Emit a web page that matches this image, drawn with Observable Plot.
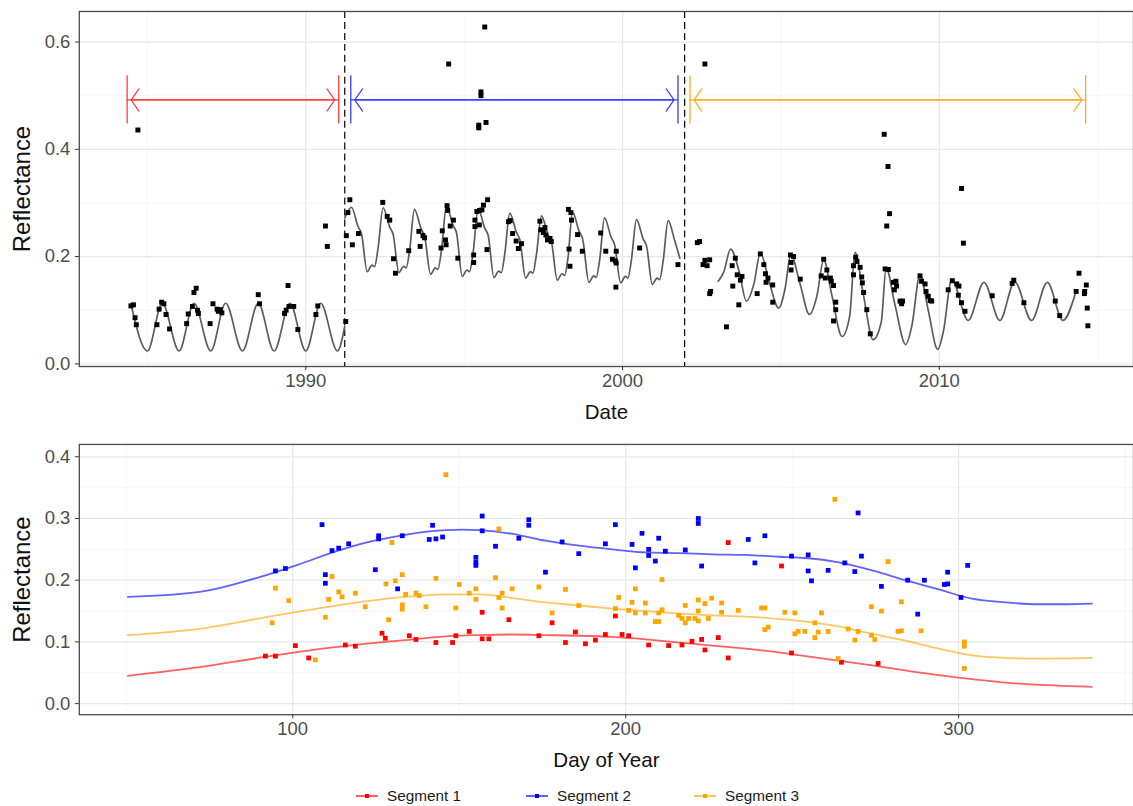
<!DOCTYPE html>
<html><head><meta charset="utf-8">
<script src="https://cdn.jsdelivr.net/npm/d3@7"></script>
<script src="https://cdn.jsdelivr.net/npm/@observablehq/plot@0.6"></script>
<style>
html,body{margin:0;padding:0;background:#fff;overflow:hidden;}
body{font-family:"Liberation Sans",Arial,Helvetica,sans-serif;width:1133px;}
#legend{position:relative;height:31px;width:1133px;}
.item{position:absolute;top:15px;height:16px;display:flex;align-items:center;font-size:15.3px;color:#1a1a1a;}
.item svg{margin-right:8px;}
</style></head><body>
<div id="top"></div><div id="bottom"></div><div id="legend"></div>
<script>
// ---------------- DATA ----------------
const segNames = ["Segment 1", "Segment 2", "Segment 3"];
const segColors = ["#ff0000", "#0000ff", "#ffa500"];
const arrowColors = ["#ff3b3b", "#3b3bff", "#ffac1c"];
const breakDates = [1991.23, 2001.96];
const segStart = [1984.36, 1991.42, 2002.13];
const segEnd = [1991.04, 2001.75, 2014.62];
const arrowLevel = 0.492;
const barLow = 0.447, barHigh = 0.537;

const topXMajor = [1990, 2000, 2010];
const topXMinor = [1985, 1995, 2005, 2015];
const topYMajor = [0, 0.2, 0.4, 0.6];
const topYMinor = [0.1, 0.3, 0.5];
const botXMajor = [100, 200, 300];
const botXMinor = [50, 150, 250, 350];
const botYMajor = [0, 0.1, 0.2, 0.3, 0.4];
const botYMinor = [0.05, 0.15, 0.25, 0.35];

// observations (decimal date, reflectance)
const obsSeg1 = [[1984.48,0.108],[1984.56,0.110],[1984.61,0.086],[1984.65,0.073],[1984.70,0.436],
[1985.30,0.073],[1985.37,0.102],[1985.45,0.115],[1985.52,0.112],[1985.59,0.092],[1985.70,0.065],
[1986.24,0.075],[1986.29,0.093],[1986.42,0.107],[1986.47,0.133],[1986.54,0.141],[1986.58,0.100],[1986.61,0.094],
[1986.98,0.075],[1987.07,0.112],[1987.20,0.102],[1987.24,0.098],[1987.30,0.101],[1987.35,0.095],
[1988.50,0.129],[1988.54,0.112],
[1989.33,0.094],[1989.38,0.100],[1989.44,0.146],[1989.47,0.107],[1989.62,0.107],[1989.75,0.064],
[1990.32,0.092],[1990.38,0.108],[1990.62,0.257],[1990.68,0.219],[1991.26,0.079]];
const obsSeg2 = [[1991.28,0.239],[1991.33,0.282],[1991.39,0.306],[1991.47,0.222],[1991.66,0.243],
[1992.43,0.301],[1992.57,0.275],[1992.65,0.268],[1992.77,0.196],[1992.83,0.169],
[1993.25,0.211],[1993.57,0.247],[1993.61,0.219],[1993.70,0.239],[1993.75,0.235],
[1994.27,0.216],[1994.31,0.248],[1994.41,0.231],[1994.43,0.222],[1994.46,0.295],[1994.48,0.286],[1994.51,0.559],[1994.56,0.257],[1994.66,0.268],[1994.80,0.197],
[1995.30,0.189],[1995.30,0.203],[1995.34,0.256],[1995.34,0.268],[1995.40,0.284],[1995.46,0.445],[1995.46,0.440],[1995.48,0.286],[1995.48,0.259],[1995.53,0.507],[1995.53,0.500],[1995.56,0.287],[1995.61,0.296],[1995.65,0.628],[1995.69,0.450],[1995.72,0.213],[1995.74,0.306],
[1996.40,0.265],[1996.45,0.267],[1996.53,0.243],[1996.64,0.229],[1996.71,0.215],[1996.81,0.224],
[1997.39,0.266],[1997.42,0.250],[1997.50,0.245],[1997.55,0.254],[1997.58,0.240],[1997.63,0.231],[1997.71,0.234],[1997.75,0.228],
[1998.29,0.288],[1998.31,0.214],[1998.34,0.182],[1998.37,0.282],[1998.39,0.268],[1998.58,0.241],[1998.73,0.210],
[1999.31,0.244],[1999.47,0.210],[1999.68,0.195],[1999.77,0.192],[1999.79,0.143],[1999.80,0.210],[1999.80,0.188],
[2000.54,0.216],[2001.75,0.185]];
const obsSeg3 = [[2002.36,0.226],[2002.43,0.228],[2002.54,0.185],[2002.60,0.193],[2002.60,0.559],[2002.67,0.183],[2002.75,0.194],[2002.75,0.131],[2002.78,0.135],
[2003.28,0.069],[2003.46,0.183],[2003.48,0.145],[2003.56,0.197],[2003.62,0.166],[2003.67,0.110],[2003.72,0.156],[2003.77,0.163],
[2004.25,0.131],[2004.35,0.205],[2004.46,0.185],[2004.51,0.168],[2004.53,0.152],[2004.59,0.160],[2004.74,0.147],[2004.74,0.115],
[2005.30,0.203],[2005.32,0.189],[2005.32,0.175],[2005.40,0.200],[2005.61,0.158],
[2006.27,0.164],[2006.35,0.195],[2006.40,0.160],[2006.45,0.175],[2006.56,0.160],[2006.59,0.154],[2006.66,0.146],[2006.66,0.080],[2006.73,0.115],[2006.73,0.101],
[2007.29,0.183],[2007.29,0.166],[2007.36,0.199],[2007.40,0.191],[2007.50,0.180],[2007.55,0.162],[2007.57,0.151],[2007.61,0.133],[2007.71,0.101],[2007.82,0.056],
[2008.26,0.428],[2008.29,0.177],[2008.34,0.257],[2008.38,0.368],[2008.39,0.176],[2008.43,0.280],[2008.55,0.152],[2008.58,0.138],[2008.63,0.154],[2008.65,0.145],[2008.76,0.117],[2008.81,0.112],[2008.84,0.117],
[2009.39,0.164],[2009.44,0.154],[2009.55,0.149],[2009.58,0.135],[2009.65,0.126],[2009.71,0.118],[2009.76,0.117],
[2010.28,0.138],[2010.41,0.155],[2010.55,0.149],[2010.60,0.128],[2010.62,0.145],[2010.70,0.114],[2010.70,0.327],[2010.76,0.225],[2010.81,0.098],
[2011.67,0.127],
[2012.30,0.150],[2012.35,0.156],[2012.67,0.114],
[2013.66,0.117],[2013.80,0.090],
[2014.32,0.135],[2014.41,0.169],[2014.58,0.131],[2014.59,0.135],[2014.64,0.147],[2014.67,0.104],[2014.69,0.071]];

// fitted seasonal model, read at its turning points
const fitSeg1 = [[1984.48,0.112],[1985.0,0.024],[1985.47,0.113],[1986.0,0.024],[1986.47,0.113],[1987.0,0.024],[1987.47,0.113],[1988.0,0.024],[1988.5,0.113],[1989.0,0.024],[1989.5,0.113],[1990.0,0.024],[1990.47,0.113],[1991.0,0.024],[1991.23,0.07]];
const fitSeg2 = [[1991.23,0.272],[1991.44,0.292],[1991.65,0.256],[1991.76,0.242],[1991.94,0.172],[1992.09,0.184],[1992.17,0.181],[1992.28,0.215],
[1992.44,0.291],[1992.65,0.255],[1992.76,0.241],[1992.94,0.170],[1993.09,0.182],[1993.17,0.179],[1993.28,0.213],
[1993.43,0.288],[1993.64,0.252],[1993.75,0.238],[1993.94,0.167],[1994.09,0.179],[1994.17,0.176],[1994.28,0.210],
[1994.44,0.294],[1994.65,0.258],[1994.76,0.244],[1994.94,0.163],[1995.09,0.175],[1995.17,0.172],[1995.28,0.206],
[1995.44,0.289],[1995.65,0.253],[1995.76,0.239],[1995.94,0.161],[1996.09,0.173],[1996.17,0.170],[1996.28,0.204],
[1996.44,0.281],[1996.65,0.245],[1996.76,0.231],[1996.94,0.160],[1997.09,0.172],[1997.17,0.169],[1997.28,0.203],
[1997.44,0.276],[1997.65,0.240],[1997.76,0.226],[1997.94,0.156],[1998.09,0.168],[1998.17,0.165],[1998.28,0.199],
[1998.42,0.283],[1998.63,0.247],[1998.74,0.233],[1998.94,0.152],[1999.09,0.164],[1999.17,0.161],[1999.28,0.195],
[1999.43,0.272],[1999.64,0.236],[1999.75,0.222],[1999.94,0.151],[2000.09,0.163],[2000.17,0.160],[2000.28,0.194],
[2000.44,0.269],[2000.65,0.233],[2000.76,0.219],[2000.94,0.148],[2001.09,0.160],[2001.17,0.157],[2001.28,0.191],
[2001.44,0.267],[2001.65,0.229],[2001.81,0.197]];
const fitSeg3 = [[2003.02,0.154],[2003.2,0.172],[2003.41,0.214],[2003.67,0.175],[2003.91,0.117],
[2004.15,0.150],[2004.35,0.207],[2004.62,0.155],[2004.93,0.104],
[2005.13,0.140],[2005.31,0.204],[2005.6,0.150],[2005.9,0.092],
[2006.13,0.125],[2006.35,0.194],[2006.6,0.130],[2006.93,0.051],
[2007.17,0.089],[2007.34,0.208],[2007.6,0.130],[2007.91,0.045],
[2008.17,0.079],[2008.32,0.179],[2008.6,0.110],[2008.94,0.036],
[2009.13,0.070],[2009.39,0.166],[2009.65,0.100],[2009.95,0.027],
[2010.13,0.061],[2010.39,0.157],[2010.91,0.081],
[2011.41,0.152],[2011.91,0.081],
[2012.38,0.153],[2012.91,0.081],
[2013.41,0.152],[2013.9,0.081],
[2014.33,0.138]];

// day-of-year observations per segment (day, reflectance)
const doySeg1 = [[91.8,0.077],[94.8,0.077],[100.8,0.094],[104.8,0.074],[115.8,0.095],[118.8,0.093],[126.8,0.114],[127.8,0.106],[135.0,0.110],[137.0,0.104],[143.0,0.099],[148.0,0.099],[149.0,0.110],[153.0,0.117],[156.9,0.148],[156.9,0.105],[158.9,0.105],[164.9,0.136],[173.9,0.110],[177.9,0.131],[181.9,0.099],[184.9,0.116],[187.9,0.097],[190.9,0.103],[193.9,0.112],[196.9,0.142],[198.9,0.112],[200.9,0.110],[206.9,0.095],[212.9,0.094],[216.9,0.095],[219.9,0.101],[222.8,0.104],[223.8,0.087],[227.8,0.107],[230.8,0.074],[230.8,0.261],[246.8,0.223],[249.8,0.082],[264.8,0.067],[275.8,0.065]];
const doySeg2 = [[94.8,0.215],[97.8,0.219],[108.8,0.290],[109.8,0.209],[109.8,0.195],[111.8,0.248],[113.8,0.252],[116.8,0.259],[124.8,0.217],[125.8,0.272],[125.8,0.267],[131.5,0.186],[132.9,0.272],[141.0,0.266],[142.0,0.289],[143.0,0.267],[145.0,0.270],[155.0,0.237],[155.0,0.229],[155.0,0.224],[156.9,0.304],[156.9,0.280],[160.9,0.255],[167.9,0.268],[170.9,0.298],[170.9,0.289],[175.9,0.213],[180.9,0.262],[185.9,0.243],[193.9,0.259],[196.9,0.290],[201.9,0.258],[202.9,0.220],[204.9,0.276],[206.9,0.250],[206.9,0.240],[208.9,0.231],[209.9,0.268],[211.9,0.247],[217.9,0.249],[221.8,0.300],[221.8,0.292],[222.8,0.223],[236.8,0.266],[238.8,0.228],[241.8,0.272],[249.8,0.239],[254.8,0.241],[254.8,0.215],[255.8,0.199],[260.8,0.216],[265.8,0.228],[268.8,0.214],[269.8,0.309],[270.8,0.239],[276.8,0.190],[284.7,0.200],[287.7,0.145],[289.7,0.200],[295.7,0.193],[296.7,0.213],[296.7,0.194],[300.7,0.172],[302.7,0.224]];
const doySeg3 = [[93.8,0.131],[94.8,0.187],[98.8,0.167],[106.8,0.071],[109.8,0.140],[110.8,0.169],[111.8,0.206],[113.8,0.181],[114.8,0.173],[118.8,0.179],[121.8,0.157],[128.0,0.194],[128.8,0.136],[129.8,0.261],[130.8,0.199],[132.9,0.209],[132.9,0.160],[132.9,0.153],[133.9,0.177],[137.0,0.179],[138.0,0.175],[140.0,0.157],[143.0,0.203],[146.0,0.371],[149.0,0.155],[150.0,0.193],[153.0,0.179],[155.0,0.186],[155.0,0.169],[160.9,0.204],[161.9,0.172],[161.9,0.283],[162.9,0.179],[162.9,0.155],[165.9,0.186],[173.9,0.189],[177.9,0.147],[181.9,0.185],[185.9,0.159],[196.9,0.154],[197.9,0.172],[200.9,0.151],[201.9,0.164],[202.9,0.186],[202.9,0.147],[205.9,0.163],[205.9,0.147],[208.9,0.133],[209.9,0.133],[209.9,0.147],[210.9,0.152],[210.9,0.201],[215.9,0.143],[216.9,0.138],[217.9,0.159],[217.9,0.131],[218.9,0.138],[220.8,0.138],[221.8,0.168],[221.8,0.150],[221.8,0.134],[223.8,0.162],[224.8,0.138],[225.8,0.171],[228.8,0.163],[228.8,0.148],[233.8,0.151],[240.8,0.155],[241.8,0.155],[241.8,0.120],[242.8,0.124],[247.8,0.148],[250.8,0.147],[250.8,0.113],[251.8,0.117],[253.8,0.117],[256.8,0.131],[256.8,0.107],[257.8,0.116],[258.8,0.147],[260.8,0.117],[262.8,0.331],[263.8,0.073],[266.8,0.121],[268.8,0.103],[269.8,0.117],[273.8,0.157],[273.8,0.111],[274.8,0.104],[276.8,0.150],[278.8,0.230],[281.8,0.117],[282.8,0.165],[282.8,0.118],[288.7,0.118],[301.7,0.100],[301.7,0.093],[301.7,0.057]];

// smooth seasonal curves per segment (day, reflectance)
const curveSeg1 = [[50.5,0.045],[72,0.059],[92,0.076],[112,0.091],[132,0.102],[146,0.109],[156,0.111],[166,0.112],[176,0.111],[186,0.110],[196,0.108],[206,0.104],[216,0.099],[226,0.094],[236,0.089],[246,0.083],[254,0.077],[274,0.062],[294,0.046],[314,0.034],[340,0.027]];
const curveSeg2 = [[50.5,0.173],[72,0.181],[90,0.205],[102,0.226],[112,0.245],[122,0.261],[132,0.272],[141,0.279],[151,0.282],[156,0.281],[166,0.275],[176,0.264],[186,0.256],[196,0.250],[206,0.245],[216,0.244],[226,0.242],[236,0.241],[246,0.238],[254,0.236],[264,0.229],[274,0.216],[284,0.200],[294,0.185],[304,0.170],[314,0.164],[324,0.161],[332,0.161],[340,0.162]];
const curveSeg3 = [[50.5,0.111],[72,0.121],[92,0.140],[112,0.158],[132,0.172],[146,0.177],[156,0.177],[166,0.171],[176,0.164],[186,0.159],[196,0.154],[206,0.150],[216,0.146],[226,0.143],[236,0.141],[246,0.137],[254,0.133],[264,0.125],[274,0.113],[284,0.102],[294,0.089],[304,0.078],[314,0.074],[324,0.073],[340,0.074]];

// ---------------- BUILD ----------------
const FONT = "'Liberation Sans', Arial, Helvetica, sans-serif";
const W = 1136;
const obs = [obsSeg1, obsSeg2, obsSeg3].flatMap((a, s) => a.map(([x, y]) => ({x, y, s})));
const fit = [fitSeg1, fitSeg2, fitSeg3].flatMap((a, s) => a.map(([x, y]) => ({x, y, s})));
const doy = [doySeg1, doySeg2, doySeg3].flatMap((a, s) => a.map(([x, y]) => ({x, y, s, c: segColors[s]})));
const curves = [curveSeg1, curveSeg2, curveSeg3].flatMap((a, s) => a.map(([x, y]) => ({x, y, s, c: segColors[s]})));
const segs = segStart.map((st, i) => ({start: st, end: segEnd[i], y: arrowLevel, c: arrowColors[i]}));
const bars = segs.flatMap(d => [{x: d.start, c: d.c}, {x: d.end, c: d.c}]);

function grids(xMaj, xMin, yMaj, yMin) {
  return [
    Plot.gridX(xMin, {stroke: "#f2f2f2", strokeOpacity: 1, strokeWidth: 0.7}),
    Plot.gridY(yMin, {stroke: "#f2f2f2", strokeOpacity: 1, strokeWidth: 0.7}),
    Plot.gridX(xMaj, {stroke: "#e8e8e8", strokeOpacity: 1, strokeWidth: 1.2}),
    Plot.gridY(yMaj, {stroke: "#e8e8e8", strokeOpacity: 1, strokeWidth: 1.2})
  ];
}
function axes(xMaj, yMaj, xTitle, dyTitle) {
  return [
    Plot.frame({stroke: "#4a4a4a", strokeWidth: 1.3}),
    Plot.axisX(xMaj, {tickSize: 4, tickPadding: 3, stroke: "#333", fill: "#4d4d4d", fontSize: 18.5, label: null, tickFormat: d => String(d)}),
    Plot.axisY(yMaj, {tickSize: 4, tickPadding: 5, stroke: "#333", fill: "#4d4d4d", fontSize: 18.5, label: null, tickFormat: d3.format(".1f")}),
    Plot.text([xTitle], {text: d => d, frameAnchor: "bottom", dy: dyTitle, fontSize: 20.6, fill: "#111", lineAnchor: "middle"}),
    Plot.text(["Reflectance"], {text: d => d, frameAnchor: "left", dx: -57, rotate: -90, fontSize: 24, fill: "#111", lineAnchor: "middle", textAnchor: "middle"})
  ];
}

const topPlot = Plot.plot({
  width: W, height: 425,
  marginTop: 11, marginBottom: 58, marginLeft: 79, marginRight: 0,
  style: {fontFamily: FONT, fontSize: "18px", background: "white", overflow: "visible"},
  x: {domain: [1982.85, 2016.13]},
  y: {domain: [-0.005, 0.657]},
  marks: [
    ...grids(topXMajor, topXMinor, topYMajor, topYMinor),
    Plot.ruleX(breakDates, {stroke: "#000", strokeWidth: 1.2, strokeDasharray: "7,4"}),
    Plot.line(fit, {x: "x", y: "y", z: "s", curve: "monotone-x", stroke: "#5c5c5c", strokeWidth: 1.7}),
    Plot.dot(obs, {x: "x", y: "y", symbol: "square", r: 2.8, fill: "#000"}),
    Plot.ruleX(bars, {x: "x", y1: barLow, y2: barHigh, stroke: "c", strokeWidth: 1.3}),
    Plot.arrow(segs, {x1: "start", x2: "end", y1: "y", y2: "y", stroke: "c", strokeWidth: 1.2, headLength: 17, headAngle: 110, insetEnd: 4}),
    Plot.arrow(segs, {x1: "end", x2: "start", y1: "y", y2: "y", stroke: "c", strokeWidth: 1.2, headLength: 17, headAngle: 110, insetEnd: 4}),
    ...axes(topXMajor, topYMajor, "Date", 46)
  ]
});
document.getElementById("top").appendChild(topPlot);

const botPlot = Plot.plot({
  width: W, height: 350,
  marginTop: 20, marginBottom: 59, marginLeft: 79, marginRight: 0,
  style: {fontFamily: FONT, fontSize: "18px", background: "white", overflow: "visible"},
  x: {domain: [35.9, 352.5]},
  y: {domain: [-0.018, 0.42]},
  marks: [
    ...grids(botXMajor, botXMinor, botYMajor, botYMinor),
    Plot.line(curves, {x: "x", y: "y", z: "s", stroke: "c", strokeOpacity: 0.62, strokeWidth: 1.8, curve: "monotone-x"}),
    Plot.dot(doy, {x: "x", y: "y", symbol: "square", r: 2.7, fill: "c"}),
    ...axes(botXMajor, botYMajor, "Day of Year", 46)
  ]
});
document.getElementById("bottom").appendChild(botPlot);

// legend
const legendX = [355, 525, 693];
const leg = document.getElementById("legend");
segNames.forEach((name, i) => {
  const el = document.createElement("div");
  el.className = "item";
  el.style.left = legendX[i] + "px";
  el.innerHTML = `<svg width="24" height="10"><line x1="1" x2="23" y1="5" y2="5" stroke="${segColors[i]}" stroke-opacity="0.62" stroke-width="2"/><rect x="10" y="3" width="4" height="4" fill="${segColors[i]}"/></svg><span>${name}</span>`;
  leg.appendChild(el);
});
</script></body></html>
